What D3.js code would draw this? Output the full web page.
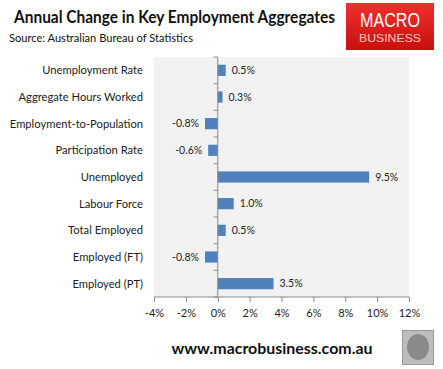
<!DOCTYPE html>
<html><head><meta charset="utf-8">
<script src="https://cdn.jsdelivr.net/npm/d3@7"></script>
<style>body{margin:0;background:#fff}svg{display:block;font-family:Lato,"Open Sans",sans-serif}</style>
</head><body><svg id="c" width="443" height="369"></svg>
<script>
const categories = ["Unemployment Rate","Aggregate Hours Worked","Employment-to-Population","Participation Rate","Unemployed","Labour Force","Total Employed","Employed (FT)","Employed (PT)"];
const values = [0.5, 0.3, -0.8, -0.6, 9.5, 1.0, 0.5, -0.8, 3.5];
const xTicks = [-4,-2,0,2,4,6,8,10,12];

const svg = d3.select("#c");
const m = {l:154, r:409, t:57, b:297};
const x = d3.scaleLinear().domain([-4,12]).range([m.l, m.r]);
const y = d3.scaleBand().domain(categories).range([m.t, m.b]).paddingInner(0.58).paddingOuter(0.29);
const yb = d3.scaleBand().domain(categories).range([m.t, m.b]);

// title
svg.append("text").attr("x",14).attr("y",23).attr("font-size",16.5).attr("font-weight","bold").attr("fill","#111")
  .attr("textLength",321).attr("lengthAdjust","spacingAndGlyphs").text("Annual Change in Key Employment Aggregates");
svg.append("text").attr("x",9).attr("y",42).attr("font-size",12).attr("fill","#111")
  .attr("textLength",184).attr("lengthAdjust","spacingAndGlyphs").text("Source: Australian Bureau of Statistics");

// logo
const defs = svg.append("defs");
const g1 = defs.append("linearGradient").attr("id","lg").attr("x1",0).attr("y1",0).attr("x2",0).attr("y2",1);
g1.append("stop").attr("offset","0").attr("stop-color","#f0302c");
g1.append("stop").attr("offset","1").attr("stop-color","#c8100e");
svg.append("rect").attr("x",346).attr("y",3).attr("width",88).attr("height",47).attr("fill","url(#lg)");
svg.append("text").attr("x",390).attr("y",27).attr("text-anchor","middle").attr("font-size",20).attr("fill","#fff")
  .attr("font-family","'Liberation Sans',Arial,sans-serif").attr("textLength",60).attr("lengthAdjust","spacingAndGlyphs").text("MACRO");
svg.append("text").attr("x",390).attr("y",42).attr("text-anchor","middle").attr("font-size",11.5).attr("fill","#f7c7c2")
  .attr("font-family","'Liberation Sans',Arial,sans-serif").attr("textLength",62).attr("lengthAdjust","spacingAndGlyphs").text("BUSINESS");

// plot background
svg.append("rect").attr("x",m.l).attr("y",m.t).attr("width",m.r-m.l).attr("height",m.b-m.t).attr("fill","#f2f2f2");

// bars
svg.selectAll("rect.bar").data(values).join("rect").attr("class","bar")
  .attr("x",(d)=>x(Math.min(0,d))).attr("width",d=>Math.abs(x(d)-x(0)))
  .attr("y",(d,i)=>y(categories[i])).attr("height",y.bandwidth()).attr("fill","#4f81bd");

// value labels
svg.selectAll("text.val").data(values).join("text").attr("class","val")
  .attr("x",d=> d>=0 ? x(d)+6 : x(d)-6).attr("text-anchor",d=>d>=0?"start":"end")
  .attr("y",(d,i)=>y(categories[i])+y.bandwidth()/2).attr("dy","0.35em")
  .attr("font-size",10.5).attr("fill","#222").text(d=>d.toFixed(1)+"%");

// y axis at 0
const yAxisG = svg.append("g").attr("transform",`translate(${x(0)},0)`);
yAxisG.append("line").attr("y1",m.t).attr("y2",m.b).attr("stroke","#888");
yAxisG.selectAll("line.t").data(d3.range(10)).join("line").attr("class","t")
  .attr("x1",-4).attr("x2",0).attr("y1",i=>m.t+i*yb.step()).attr("y2",i=>m.t+i*yb.step()).attr("stroke","#888");

// category labels
svg.selectAll("text.cat").data(categories).join("text").attr("class","cat")
  .attr("x",143).attr("y",d=>yb(d)+yb.bandwidth()/2).attr("dy","0.35em").attr("text-anchor","end")
  .attr("font-size",11.2).attr("fill","#222").text(d=>d);

// x axis
const xAxis = d3.axisBottom(x).tickValues(xTicks).tickSize(5).tickFormat(d=>d+"%");
const xg = svg.append("g").attr("transform",`translate(0,${m.b})`).call(xAxis);
xg.select(".domain").attr("stroke","#888").attr("d",`M${m.l},0H${m.r}`);
xg.selectAll(".tick line").attr("stroke","#888");
xg.selectAll(".tick text").attr("font-size",11).attr("fill","#222").attr("font-family","Lato,sans-serif").attr("dy","1.05em");

// footer
svg.append("text").attr("x",272).attr("y",354).attr("text-anchor","middle").attr("font-size",15).attr("font-weight","bold").attr("fill","#111")
  .attr("textLength",201).attr("lengthAdjust","spacingAndGlyphs").text("www.macrobusiness.com.au");
svg.append("rect").attr("x",402.5).attr("y",330.5).attr("width",31).attr("height",34).attr("fill","#bdbdbd").attr("stroke","#999");
svg.append("ellipse").attr("cx",418).attr("cy",347).attr("rx",11).attr("ry",13).attr("fill","#8a8a8a");
</script></body></html>
